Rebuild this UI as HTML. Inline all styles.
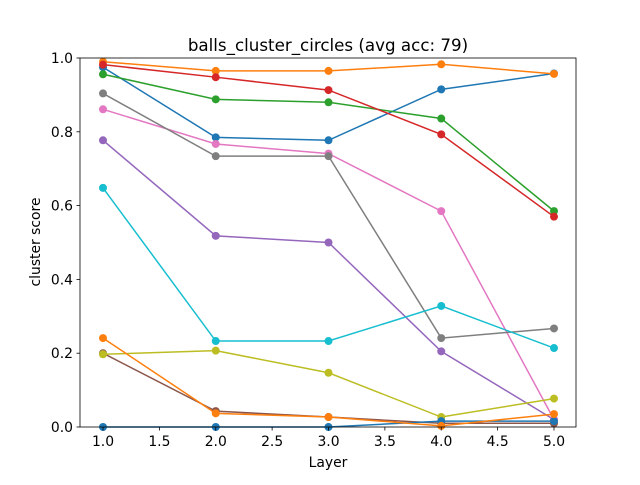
<!DOCTYPE html>
<html><head><meta charset="utf-8"><style>
body{margin:0;background:#fff;font-family:"Liberation Sans","DejaVu Sans",sans-serif}
</style></head><body>
<svg id="chart" width="640" height="480" xmlns="http://www.w3.org/2000/svg" font-family="DejaVu Sans, Liberation Sans, sans-serif"></svg>
<script>
const layers=[1,2,3,4,5];
const s0=[0.975,0.785,0.777,0.915,0.958];
const s1=[0.99,0.965,0.965,0.983,0.957];
const s2=[0.956,0.888,0.880,0.836,0.585];
const s3=[0.982,0.948,0.913,0.793,0.57];
const s4=[0.777,0.518,0.500,0.205,0.02];
const s5=[0.20,0.043,0.027,0.01,0.01];
const s6=[0.861,0.767,0.741,0.585,0.02];
const s7=[0.904,0.734,0.734,0.241,0.267];
const s8=[0.197,0.207,0.147,0.027,0.077];
const s9=[0.648,0.233,0.233,0.328,0.214];
const s10=[0,0,0,0.016,0.016];
const s11=[0.241,0.037,0.027,0.003,0.035];
const series=[s0,s1,s2,s3,s4,s5,s6,s7,s8,s9,s10,s11];
const colors=["#1f77b4","#ff7f0e","#2ca02c","#d62728","#9467bd","#8c564b","#e377c2","#7f7f7f","#bcbd22","#17becf"];
const xTicks=["1.0","1.5","2.0","2.5","3.0","3.5","4.0","4.5","5.0"];
const yTicks=["0.0","0.2","0.4","0.6","0.8","1.0"];
const L=80,R=576,T=58,B=427;
const xs=v=>103+(v-1)*(554-103)/4;
const ys=v=>B-v*(B-T);
const svg=document.getElementById('chart');
const NS="http://www.w3.org/2000/svg";
function mk(t,a,p){const e=document.createElementNS(NS,t);for(const k in a)e.setAttribute(k,a[k]);(p||svg).appendChild(e);return e;}
const g=mk('g',{});
series.forEach((s,i)=>{
 const c=colors[i%10];
 const pl=mk('polyline',{points:s.map((v,j)=>xs(layers[j])+','+ys(v)).join(' '),fill:'none',stroke:c,'stroke-width':1.5},g);
 
 
 s.forEach((v,j)=>{
  const m=mk('circle',{cx:xs(layers[j]),cy:ys(v),r:4,fill:c},g);
  
  
 });
});
const f=mk('rect',{x:L,y:T,width:R-L,height:B-T,fill:'none',stroke:'#000','stroke-width':0.8});


xTicks.forEach(t=>{const x=xs(parseFloat(t));mk('line',{x1:x,x2:x,y1:B,y2:B+3.5,stroke:'#000','stroke-width':0.8});
 const e=mk('text',{x:x,y:B+19,'font-size':13.9,'text-anchor':'middle'});e.textContent=t;
 
 });
yTicks.forEach(t=>{const y=ys(parseFloat(t));mk('line',{x1:L-3.5,x2:L,y1:y,y2:y,stroke:'#000','stroke-width':0.8});
 const e=mk('text',{x:L-7,y:y+5,'font-size':13.9,'text-anchor':'end'});e.textContent=t;
 
 });
const ti=mk('text',{x:328,y:51,'font-size':16.7,'text-anchor':'middle'});ti.textContent='balls_cluster_circles (avg acc: 79)';


const xl=mk('text',{x:328,y:467,'font-size':13.9,'text-anchor':'middle'});xl.textContent='Layer';


const yl=mk('text',{x:0,y:0,'font-size':13.9,'text-anchor':'middle',transform:'translate(40,242) rotate(-90)'});yl.textContent='cluster score';


</script>
</body></html>
